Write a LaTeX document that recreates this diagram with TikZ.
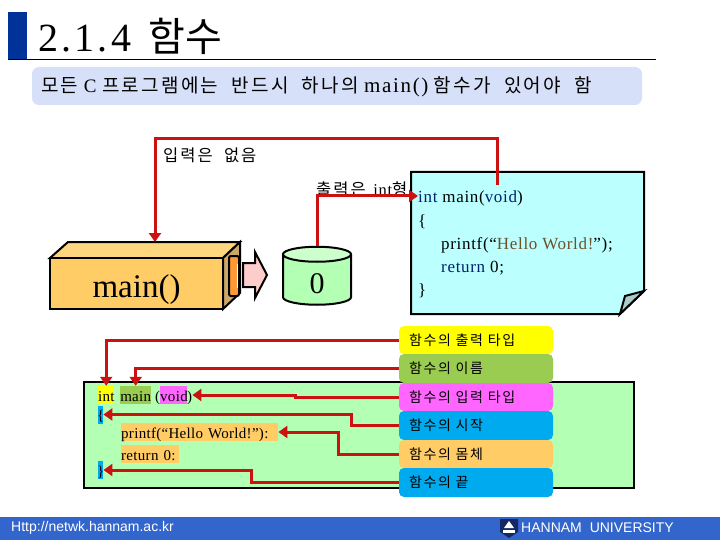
\documentclass[tikz,border=0pt]{standalone}
\usepackage{fontspec}
\usepackage{xcolor}
\setmainfont{Liberation Serif}
\setsansfont{Liberation Sans}
\newfontfamily\kr[LetterSpace=12,WordSpace=2]{Noto Sans CJK KR}
\newfontfamily\krtitle{Noto Sans CJK KR}
\newfontfamily\titlefont[LetterSpace=8]{Liberation Serif}
\newfontfamily\codefont[LetterSpace=4]{Liberation Serif}
\newfontfamily\markfont[LetterSpace=2]{Liberation Serif}
\usetikzlibrary{
  shapes.geometric,
  arrows.meta,
  positioning
}
\definecolor{TitleBlue}{RGB}{0, 51, 153}
\definecolor{BannerBlue}{RGB}{214, 224, 248}
\definecolor{FootBlue}{RGB}{51, 102, 204}
\definecolor{LineRed}{RGB}{204, 17, 17}
\definecolor{BoxOrange}{RGB}{255, 204, 102}
\definecolor{BoxTop}{RGB}{255, 214, 128}
\definecolor{BoxSide}{RGB}{204, 168, 102}
\definecolor{SlotOrange}{RGB}{255, 153, 51}
\definecolor{ArrowPink}{RGB}{255, 204, 204}
\definecolor{PanelGreen}{RGB}{179, 255, 179}
\definecolor{CylTop}{RGB}{204, 255, 204}
\definecolor{NoteCyan}{RGB}{187, 255, 255}
\definecolor{FoldGray}{RGB}{170, 204, 204}
\definecolor{TagYellow}{RGB}{255, 255, 0}
\definecolor{TagGreen}{RGB}{153, 204, 80}
\definecolor{TagPink}{RGB}{255, 102, 255}
\definecolor{TagBlue}{RGB}{0, 170, 238}
\definecolor{CodeNavy}{RGB}{0, 32, 110}
\definecolor{CodeBrown}{RGB}{110, 80, 40}
\definecolor{LogoNavy}{RGB}{20, 40, 100}
\tikzset{
    redline/.style={draw=LineRed, line width=3pt},
    redarrow/.style={redline, -{Triangle[length=9pt,width=12pt]}},
    outtag/.style={rectangle, rounded corners=5pt, minimum width=154pt, inner sep=0pt, text width=134pt, align=left, font=\kr\fontsize{14}{16}\selectfont},
    markbox/.style={rectangle, inner sep=0pt, anchor=west, text height=12pt, text depth=0pt, font=\markfont\fontsize{15}{17}\selectfont},
    codeline/.style={inner sep=0pt, anchor=west, text height=14pt, text depth=0pt, font=\codefont\fontsize{17}{19}\selectfont}
}
\begin{document}
\begin{tikzpicture}[x=1pt, y=-1pt]
    \useasboundingbox (0,0) rectangle (720,540);
    \fill[white] (0,0) rectangle (720,540);

    \fill[TitleBlue] (8,12) rectangle (27,60);
    \draw[black, line width=1pt] (8,60) -- (656,60);
    \node[inner sep=0pt, anchor=base west] (title) at (38,52) {\fontsize{40}{44}\selectfont\titlefont 2.1.4\hspace{4pt} {\krtitle 함수}};
    \node[rectangle, fill=BannerBlue, rounded corners=7pt, minimum width=610pt, minimum height=38pt, inner sep=0pt] (banner) at (337,86) {};
    \node[inner sep=0pt, anchor=west] (bannertext) at (41,87) {\fontsize{19}{21}\selectfont\codefont{\kr 모든} C {\kr 프로그램에는 반드시 하나의} {\titlefont\fontsize{21}{23}\selectfont main()} {\kr 함수가 있어야 함}};

    \node[inner sep=0pt, anchor=west] (inlabel) at (163,155) {\kr\fontsize{16.5}{18}\selectfont 입력은 없음};
    \node[inner sep=0pt, anchor=west] (outlabel) at (316,189) {\fontsize{16.5}{18}\selectfont\codefont{\kr 출력은}\hspace{3pt} int{\kr 형}};

    \fill[BoxTop, draw=black, line width=2pt] (50,258) -- (68,242) -- (240,242) -- (223,258) -- cycle;
    \fill[BoxSide, draw=black, line width=2pt] (223,258) -- (240,242) -- (240,293) -- (223,309) -- cycle;
    \node[rectangle, draw=black, line width=2pt, fill=BoxOrange, minimum width=173pt, minimum height=51pt, inner sep=0pt, text height=27pt, text depth=0pt, font=\fontsize{33}{36}\selectfont] (mainbox) at (136.5,283.5) {main()};
    \node[rectangle, draw=black, line width=2pt, fill=SlotOrange, rounded corners=2pt, minimum width=10pt, minimum height=40pt, inner sep=0pt] (slot) at (234,276) {};
    \fill[white] (236.5,264) rectangle (238,288);
    \coordinate (boxtop) at (155,242);
    \fill[ArrowPink, draw=black, line width=2pt] (243,263) -- (255,263) -- (255,252) -- (267,275) -- (255,298) -- (255,287) -- (243,287) -- cycle;
    \node[cylinder, shape border rotate=90, aspect=1, draw=black, line width=2pt, cylinder uses custom fill, cylinder body fill=PanelGreen, cylinder end fill=CylTop, minimum width=68pt, minimum height=58pt, inner sep=0pt, text height=26pt, text depth=0pt, font=\fontsize{30}{34}\selectfont] (datacyl) at (317,280) {0};

    \fill[NoteCyan, draw=black, line width=2pt] (411,172) -- (644,172) -- (644,291) -- (620,314) -- (411,314) -- cycle;
    \fill[FoldGray, draw=black, line width=2pt] (620,314) -- (625,296) -- (644,291) -- cycle;
    \node[codeline] (notemain) at (418,196) {\textcolor{CodeNavy}{int} main(\textcolor{CodeNavy}{void})};
    \node[codeline] (noteopen) at (418,219) {\{};
    \node[codeline] (noteprint) at (441,242) {printf(“\textcolor{CodeBrown}{Hello World!}”);};
    \node[codeline] (notereturn) at (441,265) {\textcolor{CodeNavy}{return} 0;};
    \node[codeline] (noteclose) at (418,288) {\}};
    \coordinate (notein) at (497,185);
    \coordinate (inbend) at (497,139);

    \draw[redarrow] (notein) -- (inbend) -| (boxtop);
    \draw[redarrow] (datacyl.top) |- (notemain.west);

    \fill[PanelGreen, draw=black, line width=2pt] (84,382) rectangle (634,488);
    \node[markbox, fill=TagYellow, text width=16pt, minimum height=18pt, align=center] (markint) at (98,395) {int};
    \node[markbox, fill=TagGreen, text width=31pt, minimum height=18pt, align=center] (markmain) at (120,395) {main};
    \node[markbox] (parenl) at (155,395) {(};
    \node[markbox, fill=TagPink, text width=27pt, minimum height=18pt, align=center] (markvoid) at (160,395) {void};
    \node[markbox] (parenr) at (187,395) {\makebox[5pt]{)}};
    \node[markbox, fill=TagBlue, minimum height=18pt] (markopen) at (98,414.5) {\makebox[5pt]{\{}};
    \node[markbox, fill=BoxOrange, text width=157pt, minimum height=18pt, align=left] (markprint) at (121,432) {printf(“Hello World!”):};
    \node[markbox, fill=BoxOrange, text width=58pt, minimum height=18pt, align=left] (markreturn) at (121,454) {return 0:};
    \node[markbox, fill=TagBlue, minimum height=18pt] (markclose) at (98,470) {\makebox[5pt]{\}}};

    \node[outtag, fill=TagYellow, minimum height=28pt] (tagtype) at (476,340) {함수의 출력 타입};
    \node[outtag, fill=TagGreen, minimum height=29pt] (tagname) at (476,368.5) {함수의 이름};
    \node[outtag, fill=TagPink, minimum height=28pt] (taginput) at (476,397) {함수의 입력 타입};
    \node[outtag, fill=TagBlue, minimum height=29pt] (tagstart) at (476,425.5) {함수의 시작};
    \node[outtag, fill=BoxOrange, minimum height=28pt] (tagbody) at (476,454) {함수의 몸체};
    \node[outtag, fill=TagBlue, minimum height=29pt] (tagend) at (476,482.5) {함수의 끝};

    \coordinate (inputbend) at (295,395);
    \coordinate (startbend) at (351,414.5);
    \coordinate (bodybend) at (338,432);
    \coordinate (endbend) at (251,470);
    \draw[redarrow] (tagtype.west) -| (markint.north);
    \draw[redarrow] (tagname.west) -| (markmain.north);
    \draw[redarrow] (taginput.west) -| (inputbend) -- (parenr.east);
    \draw[redarrow] (tagstart.west) -| (startbend) -- (markopen.east);
    \draw[redarrow] (tagbody.west) -| (bodybend) -- (markprint.east);
    \draw[redarrow] (tagend.west) -| (endbend) -- (markclose.east);

    \fill[FootBlue] (0,517) rectangle (720,540);
    \node[inner sep=0pt, anchor=west, text=white, font=\sffamily\fontsize{14}{16}\selectfont] (footurl) at (11,528) {Http://netwk.hannam.ac.kr};
    \node[inner sep=0pt, anchor=west, text=white, font=\sffamily\fontsize{14}{16}\selectfont] (footname) at (521,528) {HANNAM\hspace{4pt} UNIVERSITY};
    \fill[LogoNavy] (500,519) -- (518,519) -- (518,532) -- (509,538) -- (500,532) -- cycle;
    \fill[white] (509,521) -- (514,528) -- (504,528) -- cycle;
    \fill[white] (503,530) rectangle (515,533);
\end{tikzpicture}
\end{document}
